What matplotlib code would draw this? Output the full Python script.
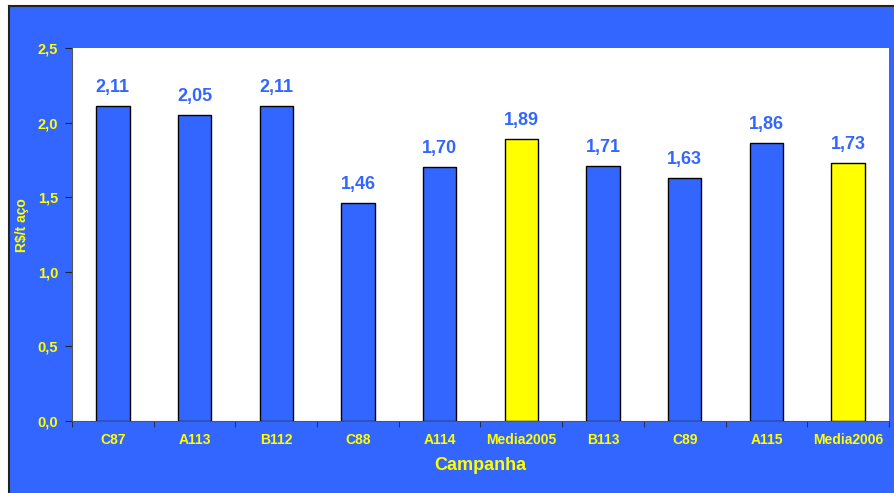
import matplotlib.pyplot as plt
from matplotlib.patches import Rectangle
from matplotlib.lines import Line2D

plt.rcParams['font.family'] = ['Liberation Sans', 'DejaVu Sans']

campanhas = ['C87', 'A113', 'B112', 'C88', 'A114', 'Media2005', 'B113', 'C89', 'A115', 'Media2006']
valores = [2.11, 2.05, 2.11, 1.46, 1.70, 1.89, 1.71, 1.63, 1.86, 1.73]
medias = ['Media2005', 'Media2006']

azul = '#3366FF'
amarelo = '#FFFF00'

W, H = 895, 493
fig = plt.figure(figsize=(W / 100, H / 100), dpi=100, facecolor='white')
fig.patches.append(Rectangle((9 / W, 0), 1, (H - 6) / H, transform=fig.transFigure,
                             facecolor=azul, edgecolor='none', zorder=-5))
fig.lines.append(Line2D([8.5 / W, 8.5 / W], [0, (H - 5.5) / H], transform=fig.transFigure,
                        color='#222222', lw=1.5, zorder=-4))
fig.lines.append(Line2D([8.5 / W, 1], [(H - 5.5) / H, (H - 5.5) / H], transform=fig.transFigure,
                        color='#222222', lw=1.5, zorder=-4))

ax = fig.add_axes([72 / W, (H - 421) / H, (889 - 72) / W, (421 - 48) / H])
ax.set_facecolor('white')

x = list(range(len(campanhas)))
cores = [amarelo if c in medias else azul for c in campanhas]
bars = ax.bar(x, valores, width=0.41, color=cores, edgecolor='black', linewidth=1)

for b, v in zip(bars, valores):
    ax.annotate(f'{v:.2f}'.replace('.', ','), (b.get_x() + b.get_width() / 2, v),
                xytext=(0, 13.5), textcoords='offset points', ha='center', va='center',
                color=azul, fontsize=13, fontweight='bold')

ax.set_xlim(-0.5, len(campanhas) - 0.5)
ax.set_ylim(0, 2.5)
ax.set_yticks([0, 0.5, 1.0, 1.5, 2.0, 2.5])
ax.set_yticklabels(['0,0', '0,5', '1,0', '1,5', '2,0', '2,5'])
ax.set_xticks(x)
ax.set_xticklabels(campanhas)
ax.set_xticks([i - 0.5 for i in range(len(campanhas) + 1)], minor=True)
ax.tick_params(axis='x', which='major', length=0, pad=9, labelsize=10, labelcolor=amarelo)
ax.tick_params(axis='x', which='minor', length=4, direction='out', color='#222222')
ax.tick_params(axis='y', length=5, direction='out', pad=5, labelsize=10.5, labelcolor=amarelo, color='#222222')
for lab in ax.get_xticklabels() + ax.get_yticklabels():
    lab.set_fontweight('bold')

for s in ['top', 'right']:
    ax.spines[s].set_visible(False)
ax.spines['left'].set_color('#555555')
ax.spines['bottom'].set_color('#555555')

ax.set_ylabel('R$/t aço', color=amarelo, fontsize=10, fontweight='bold')
ax.set_xlabel('Campanha', color=amarelo, fontsize=13, fontweight='bold')
ax.xaxis.set_label_coords((480 - 72) / (889 - 72), -(465 - 421) / (421 - 48))
ax.yaxis.set_label_coords(-(72 - 22) / (889 - 72), (421 - 225) / (421 - 48))
ax.xaxis.label.set_va('center')
ax.yaxis.label.set_va('center')

fig.savefig('out.png', dpi=100, facecolor='white')
